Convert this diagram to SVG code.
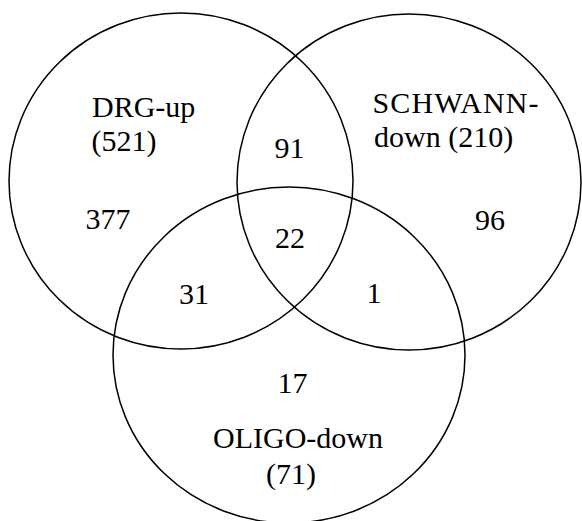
<svg xmlns="http://www.w3.org/2000/svg" width="582" height="521" viewBox="0 0 582 521">
  <style>
    .set { fill: none; stroke: #000; stroke-width: 1.5; }
    text { font-family: "Liberation Serif", "Times New Roman", serif; font-size: 30px; fill: #000; }
    .num { text-anchor: middle; }
  </style>
  <rect width="582" height="521" fill="#fff"/>

  <!-- three overlapping sets -->
  <g id="drg-up">
    <ellipse class="set" cx="181" cy="181" rx="172" ry="168"/>
    <text x="92" y="117">DRG-up</text>
    <text x="91.5" y="151">(521)</text>
  </g>
  <g id="schwann-down">
    <ellipse class="set" cx="409" cy="182" rx="172" ry="168"/>
    <text x="372.5" y="113" textLength="166" lengthAdjust="spacing">SCHWANN-</text>
    <text x="374" y="147">down (210)</text>
  </g>
  <g id="oligo-down">
    <ellipse class="set" cx="289" cy="355" rx="176" ry="168"/>
    <text x="213" y="448">OLIGO-down</text>
    <text class="num" x="291" y="484">(71)</text>
  </g>

  <!-- region counts -->
  <g id="counts">
    <text class="num" x="108" y="229">377</text>
    <text class="num" x="289.5" y="158">91</text>
    <text class="num" x="490" y="230">96</text>
    <text class="num" x="290" y="248">22</text>
    <text class="num" x="194" y="304">31</text>
    <text class="num" x="374" y="303">1</text>
    <text class="num" x="292.5" y="393">17</text>
  </g>
</svg>
